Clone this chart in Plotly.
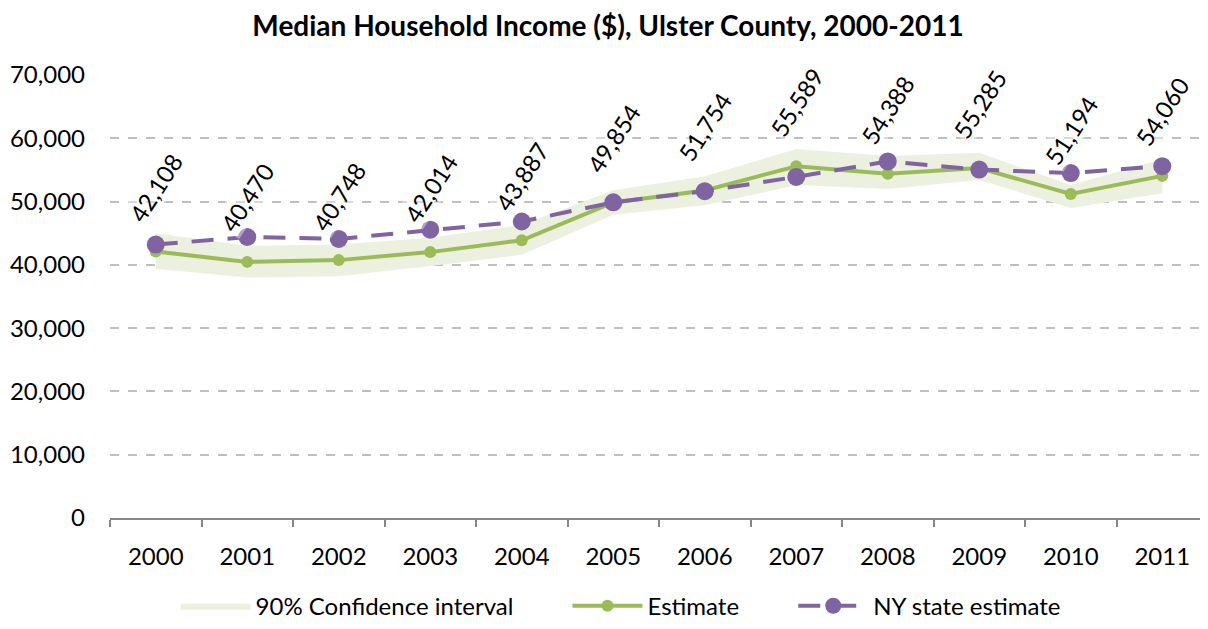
import plotly.graph_objects as go

years = [2000, 2001, 2002, 2003, 2004, 2005, 2006, 2007, 2008, 2009, 2010, 2011]
estimate = [42108, 40470, 40748, 42014, 43887, 49854, 51754, 55589, 54388, 55285, 51194, 54060]
ci_lower = [39400, 38000, 38200, 39800, 41600, 47900, 49400, 52600, 52000, 53400, 49000, 51300]
ci_upper = [45000, 43000, 43200, 44300, 46300, 51800, 54000, 58300, 57200, 57700, 52600, 56700]
ny_estimate = [43200, 44400, 44100, 45550, 46850, 49880, 51650, 53900, 56350, 55050, 54500, 55600]
y_ticks = [0, 10000, 20000, 30000, 40000, 50000, 60000, 70000]
series_names = ["90% Confidence interval", "Estimate", "NY state estimate"]

GREEN = "#9BBB59"
PURPLE = "#8064A2"
BAND = "#EBF1DE"
FONT = "Lato, 'Open Sans', sans-serif"
PAD = "\u00a0" * 8

fig = go.Figure()
fig.add_trace(go.Scatter(x=years, y=ci_lower, mode="lines", line=dict(width=0, color=BAND),
                         showlegend=False, hoverinfo="skip"))
fig.add_trace(go.Scatter(x=years, y=ci_upper, mode="lines", line=dict(width=0, color=BAND),
                         fill="tonexty", fillcolor=BAND, name=series_names[0] + PAD))
fig.add_trace(go.Scatter(x=years, y=estimate, mode="lines+markers", name=series_names[1] + PAD,
                         line=dict(color=GREEN, width=4),
                         marker=dict(color=GREEN, size=12)))
fig.add_trace(go.Scatter(x=years, y=ny_estimate, mode="lines+markers", name=series_names[2],
                         line=dict(color=PURPLE, width=4, dash="22px,14px"),
                         marker=dict(color=PURPLE, size=18)))

for x, v in zip(years, estimate):
    fig.add_annotation(x=x, y=v, text=f"{v:,}", showarrow=False, textangle=-57,
                       xanchor="center", yanchor="middle", yshift=64,
                       bgcolor="rgba(255,255,255,0.4)",
                       font=dict(family=FONT, size=24, color="black"))

fig.update_layout(
    width=1200, height=621,
    margin=dict(l=102, r=0, t=67, b=106),
    plot_bgcolor="white", paper_bgcolor="white",
    font=dict(family=FONT, size=24, color="black"),
    title=dict(text="<b>Median Household Income ($), Ulster County, 2000-2011</b>",
               x=0.5, xanchor="center", y=(621 - 18.5) / 621, yanchor="middle",
               font=dict(family=FONT, size=28, color="black")),
    showlegend=True,
    legend=dict(orientation="h", x=0.465, xanchor="center", y=-0.199, yanchor="middle",
                font=dict(family=FONT, size=24), itemwidth=70, traceorder="normal"),
    xaxis=dict(range=[1999.5, 2011.5], tickmode="array", tickvals=years,
               ticktext=[str(y) for y in years], ticks="", showgrid=False,
               showline=True, linecolor="#868686", linewidth=1.5, zeroline=False,
               automargin=False, ticklabelstandoff=16,
               minor=dict(tickmode="array", tickvals=[y - 0.5 for y in years] + [2011.5],
                          ticks="outside", ticklen=7, tickcolor="#868686", tickwidth=1.5,
                          showgrid=False),
               tickfont=dict(family=FONT, size=24)),
    yaxis=dict(range=[0, 70000], tickmode="array", tickvals=y_ticks,
               ticktext=[f"{t:,}" for t in y_ticks], showgrid=True,
               gridcolor="#BFBFBF", gridwidth=1.5, griddash="dash", zeroline=False,
               showline=False, ticks="", ticklen=0, automargin=False,
               ticklabelstandoff=24,
               tickfont=dict(family=FONT, size=24)),
)

fig.write_html("out.html")
